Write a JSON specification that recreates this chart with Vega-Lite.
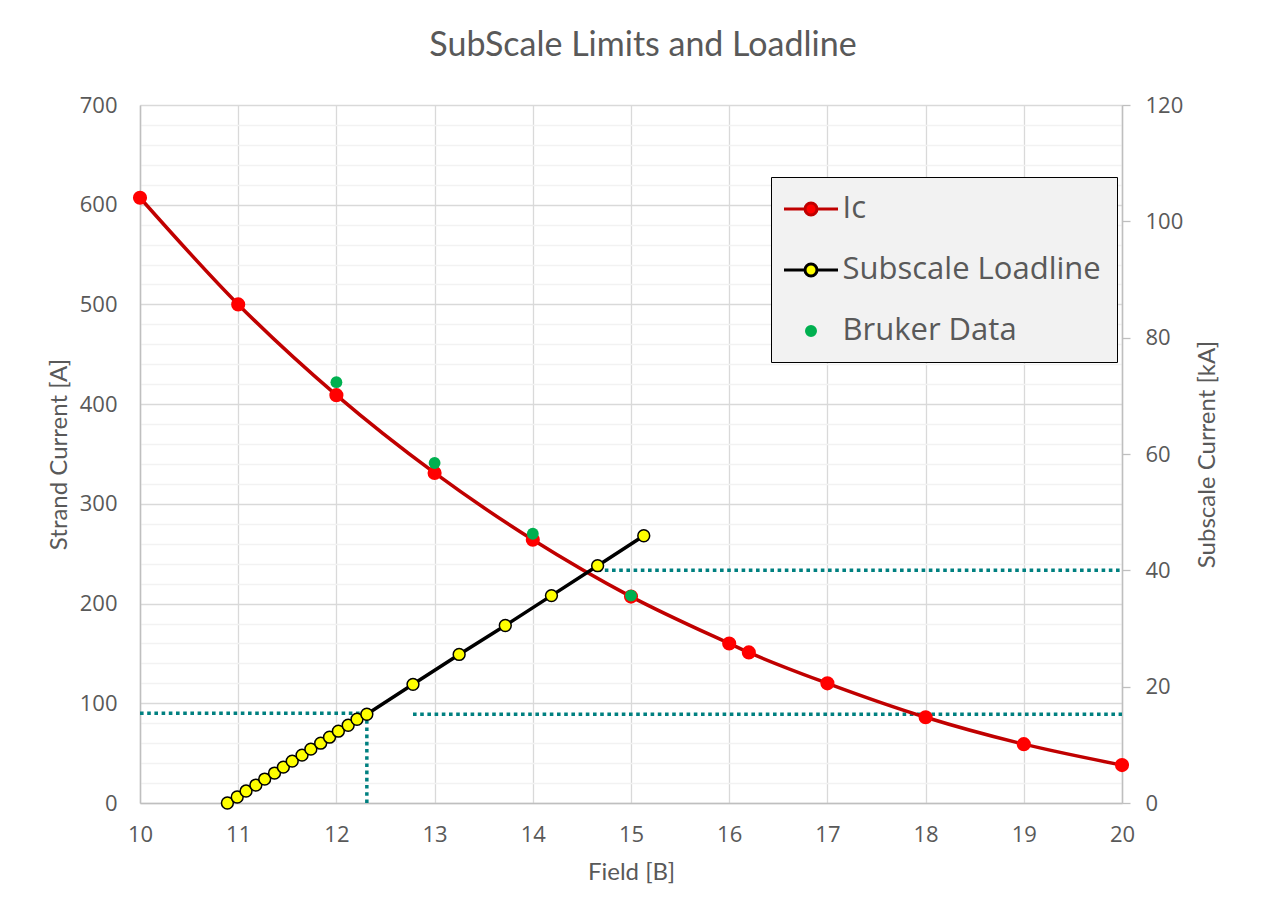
{
  "$schema": "https://vega.github.io/schema/vega-lite/v6.json",
  "width": 982,
  "height": 698,
  "autosize": "none",
  "padding": {"left": 140, "top": 105, "right": 148, "bottom": 114},
  "background": "white",
  "title": {"text": "SubScale Limits and Loadline", "font": "Lato", "fontSize": 34, "fontWeight": "normal", "color": "#595959", "anchor": "middle", "frame": "group", "dx": 12, "baseline": "alphabetic", "offset": 4},
  "config": {
    "view": {"stroke": null},
    "axis": {"labelFont": "Open Sans", "labelFontSize": 22, "labelColor": "#595959", "titleFont": "Lato", "titleFontSize": 24, "titleFontWeight": "normal", "titleColor": "#595959", "domainColor": "#BFBFBF", "domainWidth": 1.5, "tickColor": "#BFBFBF", "labelFlush": false}
  },
  "datasets": {
    "ic": [
      {"series": "Ic", "B": 10, "A": 607},
      {"series": "Ic", "B": 11, "A": 500},
      {"series": "Ic", "B": 12, "A": 409},
      {"series": "Ic", "B": 13, "A": 331},
      {"series": "Ic", "B": 14, "A": 264},
      {"series": "Ic", "B": 15, "A": 207},
      {"series": "Ic", "B": 16, "A": 160},
      {"series": "Ic", "B": 16.2, "A": 151},
      {"series": "Ic", "B": 17, "A": 120},
      {"series": "Ic", "B": 18, "A": 86},
      {"series": "Ic", "B": 19, "A": 59},
      {"series": "Ic", "B": 20, "A": 38}
    ],
    "loadline": [
      {"series": "Subscale Loadline", "B": 10.89, "A": 0},
      {"series": "Subscale Loadline", "B": 10.99, "A": 6},
      {"series": "Subscale Loadline", "B": 11.08, "A": 12},
      {"series": "Subscale Loadline", "B": 11.18, "A": 18},
      {"series": "Subscale Loadline", "B": 11.27, "A": 24},
      {"series": "Subscale Loadline", "B": 11.37, "A": 30},
      {"series": "Subscale Loadline", "B": 11.46, "A": 36},
      {"series": "Subscale Loadline", "B": 11.55, "A": 42},
      {"series": "Subscale Loadline", "B": 11.65, "A": 48},
      {"series": "Subscale Loadline", "B": 11.74, "A": 54},
      {"series": "Subscale Loadline", "B": 11.84, "A": 60},
      {"series": "Subscale Loadline", "B": 11.93, "A": 66},
      {"series": "Subscale Loadline", "B": 12.02, "A": 72},
      {"series": "Subscale Loadline", "B": 12.12, "A": 78},
      {"series": "Subscale Loadline", "B": 12.21, "A": 84},
      {"series": "Subscale Loadline", "B": 12.31, "A": 89},
      {"series": "Subscale Loadline", "B": 12.78, "A": 119},
      {"series": "Subscale Loadline", "B": 13.25, "A": 149},
      {"series": "Subscale Loadline", "B": 13.72, "A": 178},
      {"series": "Subscale Loadline", "B": 14.19, "A": 208},
      {"series": "Subscale Loadline", "B": 14.66, "A": 238},
      {"series": "Subscale Loadline", "B": 15.13, "A": 268}
    ],
    "bruker": [
      {"series": "Bruker Data", "B": 12, "A": 422},
      {"series": "Bruker Data", "B": 13, "A": 341},
      {"series": "Bruker Data", "B": 14, "A": 270},
      {"series": "Bruker Data", "B": 15, "A": 208}
    ],
    "guidesA": [
      {"B": 10, "B2": 12.31, "A": 90, "A2": 90},
      {"B": 12.31, "B2": 12.31, "A": 0, "A2": 90}
    ],
    "guidesKA": [
      {"B": 14.66, "B2": 20, "kA": 40},
      {"B": 12.78, "B2": 20, "kA": 15.25}
    ]
  },
  "encoding": {
    "x": {
      "field": "B", "type": "quantitative",
      "scale": {"domain": [10, 20], "nice": false, "zero": false},
      "axis": {"values": [10, 11, 12, 13, 14, 15, 16, 17, 18, 19, 20], "grid": true, "gridColor": "#D9D9D9", "gridWidth": 1.3, "ticks": false, "labelFlush": false, "labelPadding": 31, "labelBaseline": "middle", "title": "Field [B]", "titleX": 491, "titleY": 69.5, "titleBaseline": "middle", "titleAnchor": "middle"}
    }
  },
  "layer": [
    {
      "data": {"name": "guidesKA"},
      "mark": {"type": "rule", "color": "#008080", "strokeWidth": 3.5, "strokeDash": [3.6, 3.6]},
      "encoding": {
        "x2": {"field": "B2"},
        "y": {
          "field": "kA", "type": "quantitative",
          "scale": {"domain": [0, 120], "nice": false},
          "axis": {"orient": "right", "values": [0, 20, 40, 60, 80, 100, 120], "grid": false, "ticks": true, "tickSize": 8, "tickWidth": 1.3, "labelPadding": 15, "labelBaseline": "middle", "title": "Subscale Current [kA]", "titleX": 85, "titleY": 349, "titleAngle": 270, "titleBaseline": "middle", "titleAlign": "center"}
        }
      }
    },
    {
      "encoding": {
        "y": {
          "field": "A", "type": "quantitative",
          "scale": {"domain": [0, 700], "nice": false},
          "axis": {
            "orient": "left",
            "values": [0, 20, 40, 60, 80, 100, 120, 140, 160, 180, 200, 220, 240, 260, 280, 300, 320, 340, 360, 380, 400, 420, 440, 460, 480, 500, 520, 540, 560, 580, 600, 620, 640, 660, 680, 700],
            "grid": true,
            "gridColor": {"condition": {"test": "datum.value % 100 === 0", "value": "#D9D9D9"}, "value": "#F2F2F2"},
            "gridWidth": 1.3,
            "labelExpr": "datum.value % 100 === 0 ? datum.label : ''",
            "ticks": false, "labelPadding": 23, "labelBaseline": "middle",
            "title": "Strand Current [A]", "titleX": -81, "titleY": 349, "titleAngle": 270, "titleBaseline": "middle", "titleAlign": "center"
          }
        }
      },
      "layer": [
        {
          "data": {"name": "guidesA"},
          "mark": {"type": "rule", "color": "#008080", "strokeWidth": 3.5, "strokeDash": [3.6, 3.6]},
          "encoding": {"x2": {"field": "B2"}, "y2": {"field": "A2"}}
        },
        {
          "data": {"name": "ic"},
          "mark": {"type": "line", "color": "#C00000", "strokeWidth": 3.5, "interpolate": "monotone"},
          "encoding": {}
        },
        {
          "data": {"name": "ic"},
          "mark": {"type": "point", "filled": true, "size": 200, "opacity": 1, "color": "#FF0000"},
          "encoding": {}
        },
        {
          "data": {"name": "loadline"},
          "mark": {"type": "line", "color": "#000000", "strokeWidth": 3.5},
          "encoding": {}
        },
        {
          "data": {"name": "loadline"},
          "mark": {"type": "point", "filled": true, "size": 140, "fill": "#FFFF00", "stroke": "#000000", "strokeWidth": 1.5, "opacity": 1},
          "encoding": {}
        },
        {
          "data": {"name": "bruker"},
          "mark": {"type": "point", "filled": true, "size": 140, "opacity": 1, "color": "#00B050"},
          "encoding": {}
        },
        {
          "data": {"name": "bruker"},
          "mark": {"type": "point", "filled": true, "opacity": 0},
          "encoding": {
            "color": {
              "field": "series", "type": "nominal",
              "scale": {"domain": ["Ic", "Subscale Loadline", "Bruker Data"], "range": ["#FF0000", "#FFFF00", "#00B050"]},
              "legend": {"orient": "none", "legendX": 631, "legendY": 72, "title": null, "fillColor": "#F2F2F2", "strokeColor": "#000000", "padding": 15.5, "symbolSize": 900, "symbolStrokeWidth": 3, "symbolOffset": 8, "labelOffset": 15, "rowPadding": 29, "labelFont": "Open Sans", "labelFontSize": 31, "labelColor": "#595959", "labelLimit": 400, "symbolOpacity": 1}
            },
            "stroke": {
              "field": "series", "type": "nominal",
              "scale": {"domain": ["Ic", "Subscale Loadline", "Bruker Data"], "range": ["#C00000", "#000000", "#00B050"]},
              "legend": {"orient": "none", "legendX": 631, "legendY": 72, "title": null, "fillColor": "#F2F2F2", "strokeColor": "#000000", "padding": 15.5, "symbolSize": 900, "symbolStrokeWidth": 3, "symbolOffset": 8, "labelOffset": 15, "rowPadding": 29, "labelFont": "Open Sans", "labelFontSize": 31, "labelColor": "#595959", "labelLimit": 400, "symbolOpacity": 1}
            },
            "shape": {
              "field": "series", "type": "nominal",
              "scale": {"domain": ["Ic", "Subscale Loadline", "Bruker Data"], "range": ["M-1.8,0H-0.4M0.4,0H1.8M-0.4,0A0.4,0.4 0 1,0 0.4,0A0.4,0.4 0 1,0 -0.4,0Z", "M-1.8,0H-0.4M0.4,0H1.8M-0.4,0A0.4,0.4 0 1,0 0.4,0A0.4,0.4 0 1,0 -0.4,0Z", "M-0.3,0A0.3,0.3 0 1,0 0.3,0A0.3,0.3 0 1,0 -0.3,0Z"]},
              "legend": {"orient": "none", "legendX": 631, "legendY": 72, "title": null, "fillColor": "#F2F2F2", "strokeColor": "#000000", "padding": 15.5, "symbolSize": 900, "symbolStrokeWidth": 3, "symbolOffset": 8, "labelOffset": 15, "rowPadding": 29, "labelFont": "Open Sans", "labelFontSize": 31, "labelColor": "#595959", "labelLimit": 400, "symbolOpacity": 1}
            }
          }
        }
      ]
    }
  ],
  "resolve": {"scale": {"y": "independent"}}
}
